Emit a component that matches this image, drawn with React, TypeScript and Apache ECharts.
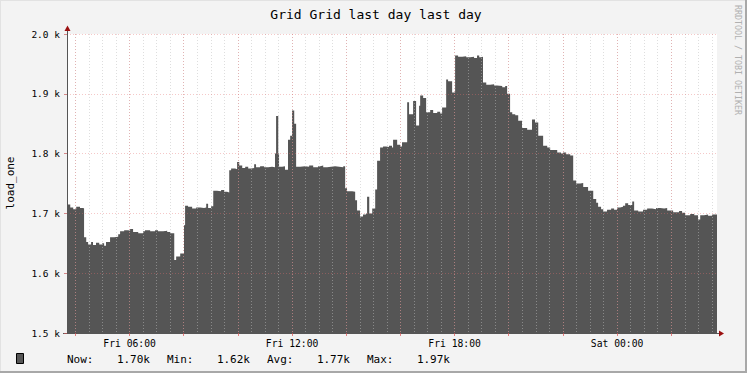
import React, { useEffect, useRef } from "react";
import * as echarts from "echarts";

const FONT = "'DejaVu Sans Mono', monospace";
const titleText = "Grid Grid last day last day";
const yUnitLabel = "load_one";
const watermarkText = "RRDTOOL / TOBI OETIKER";

// hours since Fri 00:00
const times = [
  3.69, 3.81, 3.92, 4.03, 4.17, 4.29, 4.32, 4.40, 4.47, 4.58,
  4.65, 4.76, 4.88, 4.99, 5.06, 5.13, 5.28, 5.43, 5.58, 5.65,
  5.80, 5.95, 6.02, 6.13, 6.32, 6.50, 6.57, 6.76, 6.94, 7.05,
  7.24, 7.39, 7.50, 7.65, 7.72, 7.87, 8.01, 8.05, 8.16, 8.31,
  8.46, 8.61, 8.75, 8.83, 8.90, 9.01, 9.09, 9.23, 9.38, 9.49,
  9.60, 9.68, 9.75, 9.90, 9.97, 10.05, 10.16, 10.27, 10.38, 10.49,
  10.60, 10.67, 10.82, 10.97, 11.12, 11.26, 11.37, 11.41, 11.49, 11.52,
  11.63, 11.74, 11.85, 11.93, 12.00, 12.08, 12.15, 12.30, 12.48, 12.63,
  12.78, 12.96, 13.04, 13.15, 13.29, 13.44, 13.59, 13.74, 13.89, 13.96,
  14.03, 14.22, 14.33, 14.40, 14.51, 14.62, 14.73, 14.77, 14.85, 14.96,
  15.07, 15.14, 15.25, 15.36, 15.47, 15.58, 15.69, 15.73, 15.88, 15.99,
  16.06, 16.25, 16.32, 16.47, 16.58, 16.69, 16.73, 16.84, 16.95, 17.10,
  17.21, 17.36, 17.47, 17.54, 17.69, 17.76, 17.91, 18.02, 18.13, 18.28,
  18.43, 18.57, 18.72, 18.83, 18.91, 18.98, 19.05, 19.17, 19.31, 19.46,
  19.57, 19.76, 19.87, 19.94, 20.05, 20.13, 20.24, 20.35, 20.49, 20.68,
  20.86, 20.97, 21.09, 21.27, 21.42, 21.53, 21.79, 21.93, 22.01, 22.12,
  22.27, 22.38, 22.49, 22.64, 22.75, 22.93, 23.12, 23.23, 23.30, 23.41,
  23.49, 23.63, 23.78, 23.89, 24.00, 24.11, 24.22, 24.30, 24.41, 24.56,
  24.63, 24.78, 24.96, 25.11, 25.29, 25.44, 25.59, 25.74, 25.85, 26.07,
  26.29, 26.40, 26.51, 26.70, 26.85, 26.99, 27.07, 27.21, 27.36, 27.51,
  27.69,
];

const loadValues = [
  1715, 1710, 1707, 1711, 1709, 1708, 1660, 1652, 1648, 1652,
  1647, 1651, 1648, 1650, 1646, 1652, 1660, 1661, 1665, 1670,
  1672, 1671, 1674, 1669, 1667, 1670, 1672, 1670, 1672, 1670,
  1671, 1669, 1667, 1622, 1628, 1633, 1680, 1713, 1711, 1708,
  1710, 1709, 1710, 1716, 1709, 1712, 1738, 1737, 1739, 1736,
  1735, 1772, 1775, 1774, 1786, 1780, 1776, 1778, 1775, 1776,
  1782, 1777, 1779, 1777, 1778, 1777, 1800, 1863, 1800, 1778,
  1779, 1773, 1823, 1830, 1872, 1850, 1778, 1779, 1778, 1780,
  1777, 1779, 1780, 1777, 1778, 1779, 1778, 1777, 1779, 1742,
  1737, 1736, 1722, 1705, 1695, 1698, 1700, 1728, 1700, 1708,
  1740, 1788, 1810, 1812, 1811, 1813, 1810, 1823, 1815, 1812,
  1819, 1886, 1866, 1888, 1847, 1880, 1897, 1893, 1869, 1873,
  1868, 1870, 1867, 1877, 1924, 1921, 1902, 1964, 1962, 1963,
  1961, 1962, 1960, 1964, 1961, 1962, 1919, 1915, 1916, 1914,
  1913, 1911, 1913, 1900, 1869, 1866, 1864, 1855, 1843, 1840,
  1857, 1852, 1830, 1813, 1810, 1806, 1802, 1800, 1802, 1799,
  1797, 1755, 1750, 1751, 1744, 1738, 1724, 1718, 1711, 1707,
  1703, 1706, 1708, 1706, 1710, 1711, 1713, 1717, 1714, 1720,
  1705, 1703, 1706, 1708, 1707, 1709, 1708, 1709, 1705, 1702,
  1704, 1701, 1697, 1699, 1697, 1690, 1697, 1698, 1696, 1698,
  1698,
];

const timeLabelHours = [6, 12, 18, 24];
const timeLabelTexts = ["Fri 06:00", "Fri 12:00", "Fri 18:00", "Sat 00:00"];
const majorGridHours = [4, 6, 8, 10, 12, 14, 16, 18, 20, 22, 24, 26];
const minorGridHours: number[] = [];
for (let h = 4; h <= 27.5; h += 0.5) minorGridHours.push(h);

const statLabels = ["Now:", "Min:", "Avg:", "Max:"];
const statValues = ["1.70k", "1.62k", "1.77k", "1.97k"];

const X_MIN = 3.69;
const X_MAX = 27.69;

export default function App() {
  const ref = useRef<HTMLDivElement>(null);

  useEffect(() => {
    document.body.style.margin = "0";
    if (!ref.current) return;
    const chart = echarts.init(ref.current, undefined, { renderer: "svg" });

    const data = times.map((t, i) => [t, loadValues[i]]);
    const red = "rgba(230,110,110,0.38)";
    const gray = "rgba(190,190,190,0.5)";

    const graphics: any[] = [
      // frame
      { type: "rect", shape: { x: 0, y: 0, width: 747, height: 1 }, style: { fill: "#E2E2E2" }, silent: true },
      { type: "rect", shape: { x: 0, y: 0, width: 1, height: 373 }, style: { fill: "#E2E2E2" }, silent: true },
      { type: "rect", shape: { x: 745, y: 0, width: 2, height: 373 }, style: { fill: "#A8A8A8" }, silent: true },
      { type: "rect", shape: { x: 0, y: 371, width: 747, height: 2 }, style: { fill: "#A8A8A8" }, silent: true },
      {
        type: "text", x: 376, y: 14,
        style: { text: titleText, font: `13px ${FONT}`, fill: "#000", align: "center", verticalAlign: "middle" },
      },
      {
        type: "text", x: 10, y: 183, rotation: Math.PI / 2,
        style: { text: yUnitLabel, font: `11px ${FONT}`, fill: "#000", align: "center", verticalAlign: "middle" },
      },
      {
        type: "text", x: 738, y: 60, rotation: -Math.PI / 2,
        style: { text: watermarkText, font: `8.3px ${FONT}`, fill: "#B0B0B0", align: "center", verticalAlign: "middle" },
      },
      // axis extensions and arrows
      { type: "line", shape: { x1: 67.5, y1: 28, x2: 67.5, y2: 34 }, style: { stroke: "#555", lineWidth: 1 } },
      { type: "line", shape: { x1: 63, y1: 333.5, x2: 67, y2: 333.5 }, style: { stroke: "#555", lineWidth: 1 } },
      { type: "line", shape: { x1: 717, y1: 333.5, x2: 720, y2: 333.5 }, style: { stroke: "#555", lineWidth: 1 } },
      { type: "polygon", shape: { points: [[64.5, 31], [70.5, 31], [67.5, 25.5]] }, style: { fill: "#9B1010" } },
      { type: "polygon", shape: { points: [[719, 330.5], [719, 336.5], [724, 333.5]] }, style: { fill: "#9B1010" } },
      // legend swatch
      { type: "rect", shape: { x: 16.5, y: 353.5, width: 7, height: 10 }, style: { fill: "#555555", stroke: "#000", lineWidth: 1 } },
    ];
    statLabels.forEach((lab, i) => {
      graphics.push({
        type: "text", x: 67 + i * 100, y: 359,
        style: { text: lab, font: `11px ${FONT}`, fill: "#000", align: "left", verticalAlign: "middle" },
      });
      graphics.push({
        type: "text", x: 150 + i * 100, y: 359,
        style: { text: statValues[i], font: `11px ${FONT}`, fill: "#000", align: "right", verticalAlign: "middle" },
      });
    });

    chart.setOption({
      animation: false,
      backgroundColor: "#F3F3F3",
      grid: {
        left: 67, right: 30, top: 34, bottom: 40,
        show: true, backgroundColor: "#FFFFFF", borderWidth: 0,
      },
      xAxis: [
        {
          type: "value", min: X_MIN, max: X_MAX, position: "bottom", z: 4,
          axisLine: { show: true, lineStyle: { color: "#555", width: 1 } },
          axisTick: { show: true, customValues: majorGridHours, length: 3, inside: false, lineStyle: { color: "rgba(220,80,80,0.7)" } },
          axisLabel: {
            show: true, customValues: timeLabelHours, margin: 5,
            fontFamily: FONT, fontSize: 9.7, color: "#000",
            formatter: (v: number) => {
              const i = timeLabelHours.findIndex((h) => Math.abs(h - v) < 1e-6);
              return i >= 0 ? timeLabelTexts[i] : "";
            },
          },
          splitLine: { show: true, lineStyle: { color: red, width: 1, type: [1, 2] } },
        },
        {
          type: "value", min: X_MIN, max: X_MAX, position: "top", z: 3,
          axisLine: { show: false },
          axisTick: { show: false, customValues: minorGridHours },
          axisLabel: { show: false, customValues: minorGridHours },
          splitLine: { show: true, lineStyle: { color: gray, width: 1, type: [1, 2] } },
        },
      ],
      yAxis: {
        type: "value", min: 1500, max: 2000, interval: 100, z: 4,
        axisLine: { show: true, lineStyle: { color: "#555", width: 1 } },
        axisTick: { show: true, length: 3, inside: false, lineStyle: { color: "rgba(200,90,90,0.7)" } },
        axisLabel: {
          margin: 7, fontFamily: FONT, fontSize: 9.5, color: "#000",
          formatter: (v: number) => (v / 1000).toFixed(1) + " k",
        },
        splitLine: { show: true, lineStyle: { color: red, width: 1, type: [1, 2] } },
      },
      series: [
        {
          type: "line", xAxisIndex: 0, yAxisIndex: 0, z: 2,
          step: "end", symbol: "none", showSymbol: false,
          lineStyle: { width: 0 },
          areaStyle: { color: "#555555", opacity: 1, origin: "start" },
          data,
        },
      ],
      graphic: { elements: graphics },
    });

    return () => chart.dispose();
  }, []);

  return <div ref={ref} style={{ width: 747, height: 373 }} />;
}
